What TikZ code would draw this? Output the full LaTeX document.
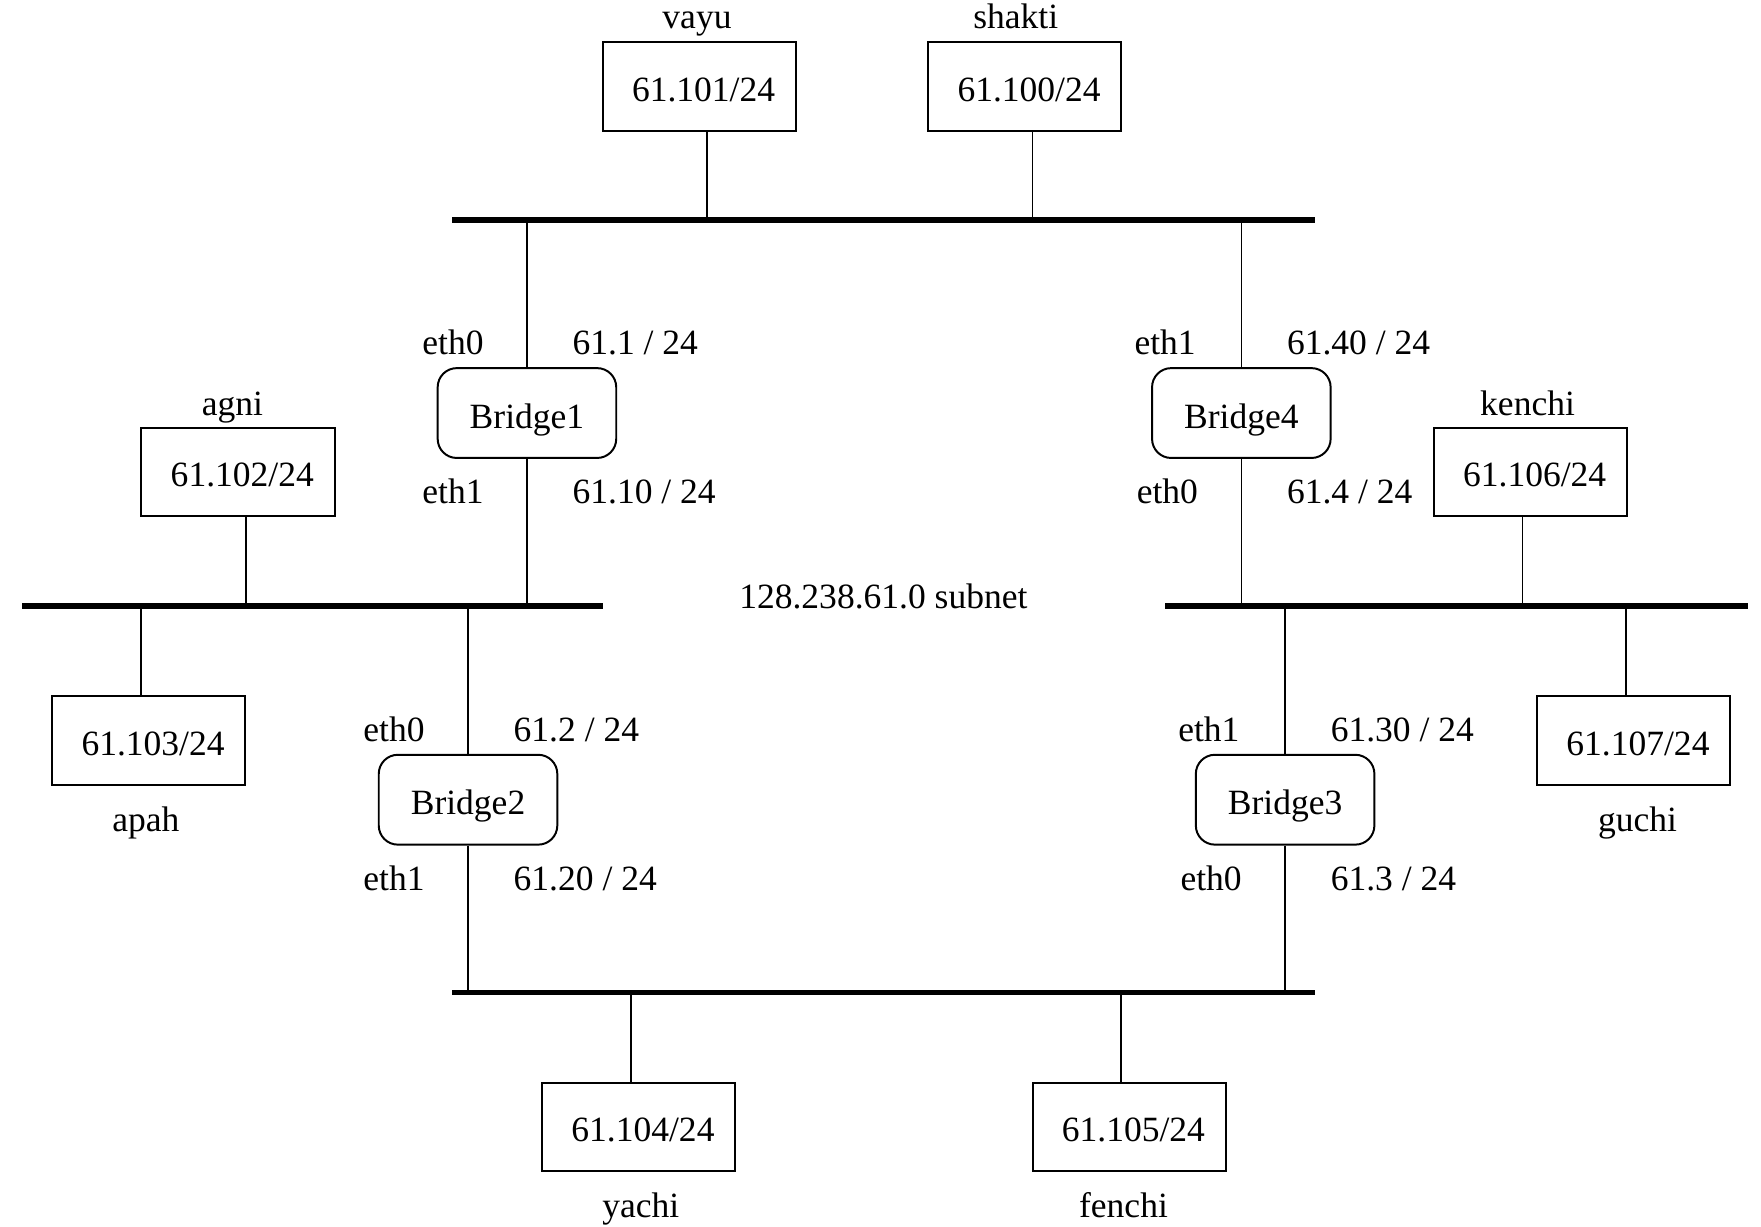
\documentclass[tikz,border=0pt]{standalone}
\usepackage{fontspec}
\setmainfont{Liberation Serif}
\usepackage{tikz}
\usetikzlibrary{calc}

\begin{document}
\begin{tikzpicture}[
            x=0.01cm, y=-0.01cm,
            font=\fontsize{9}{11}\selectfont,
            host/.style={rectangle, draw, minimum width=1.72cm, minimum height=0.79cm, inner sep=0pt, line width=0.5pt, text height=7.4pt, text depth=0pt, execute at begin node={\hspace*{2.2pt}}},
            bridge/.style={rectangle, draw, rounded corners=0.17cm, minimum width=1.59cm, minimum height=0.8cm, inner sep=0pt, line width=0.5pt, text height=7.6pt, text depth=0pt},
            hostname/.style={anchor=base, inner sep=0pt},
            portl/.style={anchor=base east, inner sep=0pt},
            portr/.style={anchor=base west, inner sep=0pt},
            bus/.style={line width=1.35pt},
            tap/.style={line width=0.4pt}
        ]
            \useasboundingbox (0,0) rectangle (1569,1093);

            % Hosts
            \node[host] (vayu) at (623,77) {61.101/24};
            \node[host] (shakti) at (913,77) {61.100/24};
            \node[host] (agni) at (212,420.5) {61.102/24};
            \node[host] (kenchi) at (1363.5,420.5) {61.106/24};
            \node[host] (apah) at (132.5,660) {61.103/24};
            \node[host] (guchi) at (1455.5,660) {61.107/24};
            \node[host] (yachi) at (569,1004) {61.104/24};
            \node[host] (fenchi) at (1006,1004) {61.105/24};

            % Host names
            \node[hostname] (vayuname) at (621,25) {vayu};
            \node[hostname] (shaktiname) at (905,25) {shakti};
            \node[hostname] (agniname) at (207,370) {agni};
            \node[hostname] (kenchiname) at (1361,370) {kenchi};
            \node[hostname] (apahname) at (130,741) {apah};
            \node[hostname] (guchiname) at (1459,741) {guchi};
            \node[hostname] (yachiname) at (571,1085) {yachi};
            \node[hostname] (fenchiname) at (1001,1085) {fenchi};

            % Bridges
            \node[bridge] (br1) at (469.5,368) {Bridge1};
            \node[bridge] (br4) at (1106,368) {Bridge4};
            \node[bridge] (br2) at (417,712.5) {Bridge2};
            \node[bridge] (br3) at (1145,712.5) {Bridge3};

            % Ports
            \node[portl] (br1eth0) at ($(br1.north)+(-38,-11)$) {eth0};
            \node[portr] (br1ip0) at ($(br1.north)+(40,-11)$) {61.1 / 24};
            \node[portl] (br1eth1) at ($(br1.south)+(-38,40)$) {eth1};
            \node[portr] (br1ip1) at ($(br1.south)+(40,40)$) {61.10 / 24};
            \node[portl] (br4eth1) at ($(br4.north)+(-40,-11)$) {eth1};
            \node[portr] (br4ip1) at ($(br4.north)+(40,-11)$) {61.40 / 24};
            \node[portl] (br4eth0) at ($(br4.south)+(-38,40)$) {eth0};
            \node[portr] (br4ip0) at ($(br4.south)+(40,40)$) {61.4 / 24};
            \node[portl] (br2eth0) at ($(br2.north)+(-38,-11)$) {eth0};
            \node[portr] (br2ip0) at ($(br2.north)+(40,-11)$) {61.2 / 24};
            \node[portl] (br2eth1) at ($(br2.south)+(-38,40)$) {eth1};
            \node[portr] (br2ip1) at ($(br2.south)+(40,40)$) {61.20 / 24};
            \node[portl] (br3eth1) at ($(br3.north)+(-40,-11)$) {eth1};
            \node[portr] (br3ip1) at ($(br3.north)+(40,-11)$) {61.30 / 24};
            \node[portl] (br3eth0) at ($(br3.south)+(-38,40)$) {eth0};
            \node[portr] (br3ip0) at ($(br3.south)+(40,40)$) {61.3 / 24};

            \node[anchor=base west, inner sep=0pt] (subnet) at (658,542) {128.238.61.0 subnet};

            % Buses
            \coordinate (topL) at (403,196);
            \coordinate (topR) at (1172,196);
            \coordinate (leftL) at (20,540);
            \coordinate (leftR) at (537,540);
            \coordinate (rightL) at (1038,540);
            \coordinate (rightR) at (1557,540);
            \coordinate (botL) at (403,884);
            \coordinate (botR) at (1172,884);
            \draw[bus] (topL) -- (topR);
            \draw[bus] (leftL) -- (leftR);
            \draw[bus] (rightL) -- (rightR);
            \draw[bus] (botL) -- (botR);

            % Taps
            \coordinate (vayutap) at ($(vayu.south)+(7,0)$);
            \coordinate (shaktitap) at ($(shakti.south)+(7,0)$);
            \coordinate (agnitap) at ($(agni.south)+(7,0)$);
            \coordinate (kenchitap) at ($(kenchi.south)+(-7,0)$);
            \coordinate (apahtap) at ($(apah.north)+(-7,0)$);
            \coordinate (guchitap) at ($(guchi.north)+(-7,0)$);
            \coordinate (yachitap) at ($(yachi.north)+(-7,0)$);
            \coordinate (fenchitap) at ($(fenchi.north)+(-7,0)$);
            \draw[tap] (vayutap) -- (vayutap |- topL);
            \draw[tap] (shaktitap) -- (shaktitap |- topL);
            \draw[tap] (agnitap) -- (agnitap |- leftL);
            \draw[tap] (kenchitap) -- (kenchitap |- rightL);
            \draw[tap] (apahtap) -- (apahtap |- leftL);
            \draw[tap] (guchitap) -- (guchitap |- rightL);
            \draw[tap] (yachitap) -- (yachitap |- botL);
            \draw[tap] (fenchitap) -- (fenchitap |- botL);

            \draw[tap] (br1) -- (br1 |- topL);
            \draw[tap] (br1) -- (br1 |- leftL);
            \draw[tap] (br4) -- (br4 |- topL);
            \draw[tap] (br4) -- (br4 |- rightL);
            \draw[tap] (br2) -- (br2 |- leftL);
            \draw[tap] (br2) -- (br2 |- botL);
            \draw[tap] (br3) -- (br3 |- rightL);
            \draw[tap] (br3) -- (br3 |- botL);

        \end{tikzpicture}
\end{document}
